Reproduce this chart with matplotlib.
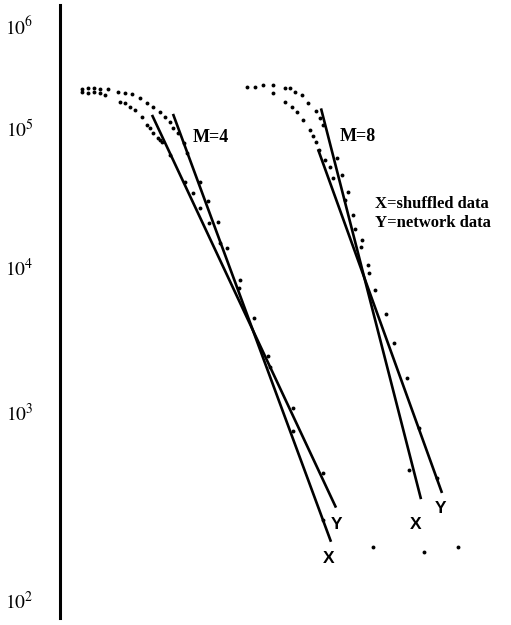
import numpy as np
import matplotlib
matplotlib.use("Agg")
import matplotlib.pyplot as plt

# ---- data (x in arbitrary units) ----
m4_x_pos = [22, 28, 34, 40, 48, 58, 65, 72, 80, 87, 93, 100, 105, 110, 113, 118,
            124, 127, 140, 148, 158, 160, 167, 180, 179, 194, 233, 263]
m4_x_cnt = [2.4e5, 2.44e5, 2.45e5, 2.4e5, 2.4e5, 2.24e5, 2.19e5, 2.14e5, 1.95e5,
            1.75e5, 1.6e5, 1.43e5, 1.28e5, 1.14e5, 1.0e5, 9.2e4, 7.8e4, 6.6e4,
            4.1e4, 3.0e4, 2.12e4, 1.5e4, 1.36e4, 8.1e3, 7.2e3, 4.45e3, 790, 267]

m4_y_pos = [22, 28, 34, 40, 45, 60, 65, 70, 75, 82, 87, 90, 93, 98, 100, 102,
            110, 125, 133, 140, 149, 208, 210, 233, 263, 313]
m4_y_cnt = [2.24e5, 2.19e5, 2.24e5, 2.19e5, 2.09e5, 1.79e5, 1.75e5, 1.6e5, 1.5e5,
            1.28e5, 1.07e5, 1.0e5, 9.2e4, 8.5e4, 8.2e4, 7.9e4, 6.4e4, 4.1e4,
            3.43e4, 2.64e4, 2.08e4, 2.43e3, 2.05e3, 1.06e3, 472, 191]

m8_x_pos = [187, 195, 203, 213, 225, 230, 235, 242, 248, 256, 260, 263, 277, 282,
            288, 293, 295, 302, 308, 349, 364]
m8_x_cnt = [2.52e5, 2.52e5, 2.61e5, 2.61e5, 2.43e5, 2.43e5, 2.25e5, 2.09e5, 1.76e5,
            1.46e5, 1.25e5, 1.07e5, 6.05e4, 4.6e4, 3.48e4, 2.37e4, 1.87e4, 1.56e4,
            1.03e4, 491, 180]

m8_y_pos = [213, 225, 232, 237, 243, 250, 253, 256, 259, 265, 270, 273, 285, 301,
            309, 315, 326, 334, 347, 359, 377, 398]
m8_y_cnt = [2.17e5, 1.8e5, 1.61e5, 1.44e5, 1.2e5, 9.7e4, 8.75e4, 7.96e4, 6.95e4,
            5.89e4, 5.27e4, 4.35e4, 3.03e4, 1.4e4, 9.1e3, 6.9e3, 4.72e3, 2.98e3,
            1.71e3, 819, 444, 191]

# fitted straight lines (end points)
fit_m4_x = ([113, 271], [1.37e5, 204])
fit_m4_y = ([92, 276], [1.34e5, 310])
fit_m8_x = ([261, 361], [1.55e5, 344])
fit_m8_y = ([258, 382], [7.03e4, 371])

decade_labels = [2, 3, 4, 5, 6]

# the original axis has unevenly spaced decades, so use a matching scale
decade_height = [188, 145, 139, 103]
logs = np.array([1, 2, 3, 4, 5, 6, 7], dtype=float)
marks = np.concatenate([[-decade_height[0]], [0], np.cumsum(decade_height),
                        [sum(decade_height) + decade_height[-1]]]).astype(float)


def forward(v):
    v = np.clip(np.asarray(v, dtype=float), 1e-300, None)
    return np.interp(np.log10(v), logs, marks)


def inverse(u):
    return 10 ** np.interp(np.asarray(u, dtype=float), marks, logs)


plt.rcParams['mathtext.fontset'] = 'stix'

fig = plt.figure(figsize=(5.11, 6.25), dpi=100)
ax = fig.add_axes([60 / 511, 7 / 625, 451 / 511, 613 / 625])
ax.set_yscale('function', functions=(forward, inverse))

dot = dict(ls='none', marker='o', ms=2.8, color='black', mec='none')
for xs, ys in [(m4_x_pos, m4_x_cnt), (m4_y_pos, m4_y_cnt),
               (m8_x_pos, m8_x_cnt), (m8_y_pos, m8_y_cnt)]:
    ax.plot(xs, ys, **dot)

for xs, ys in [fit_m4_x, fit_m4_y, fit_m8_x, fit_m8_y]:
    ax.plot(xs, ys, color='black', lw=1.9, solid_capstyle='butt')

serif = dict(family='Liberation Serif', weight='bold', fontsize=13)
small = dict(family='Liberation Serif', weight='bold', fontsize=12)
sans = dict(family='Liberation Sans', weight='bold', fontsize=12.5)
ax.text(151, 8.6e4, 'M=4', ha='center', va='center', **serif)
ax.text(298, 8.75e4, 'M=8', ha='center', va='center', **serif)
ax.text(315, 2.85e4, 'X=shuffled data', ha='left', va='center', **small)
ax.text(315, 2.08e4, 'Y=network data', ha='left', va='center', **small)
ax.text(277, 251, 'Y', ha='center', va='center', **sans)
ax.text(269, 167, 'X', ha='center', va='center', **sans)
ax.text(381, 308, 'Y', ha='center', va='center', **sans)
ax.text(356, 251, 'X', ha='center', va='center', **sans)

ax.set_xlim(0, 451)
ax.set_ylim(inverse(-18), inverse(595))
ax.set_yticks([10.0 ** d for d in decade_labels])
ax.set_yticklabels([f'$10^{{{d}}}$' for d in decade_labels], fontsize=14)
ax.yaxis.set_minor_locator(matplotlib.ticker.NullLocator())
ax.tick_params(axis='y', length=0, pad=19)
ax.set_xticks([])
for side in ['top', 'right', 'bottom']:
    ax.spines[side].set_visible(False)
ax.spines['left'].set_linewidth(2.2)

fig.savefig('out.png', dpi=100)
